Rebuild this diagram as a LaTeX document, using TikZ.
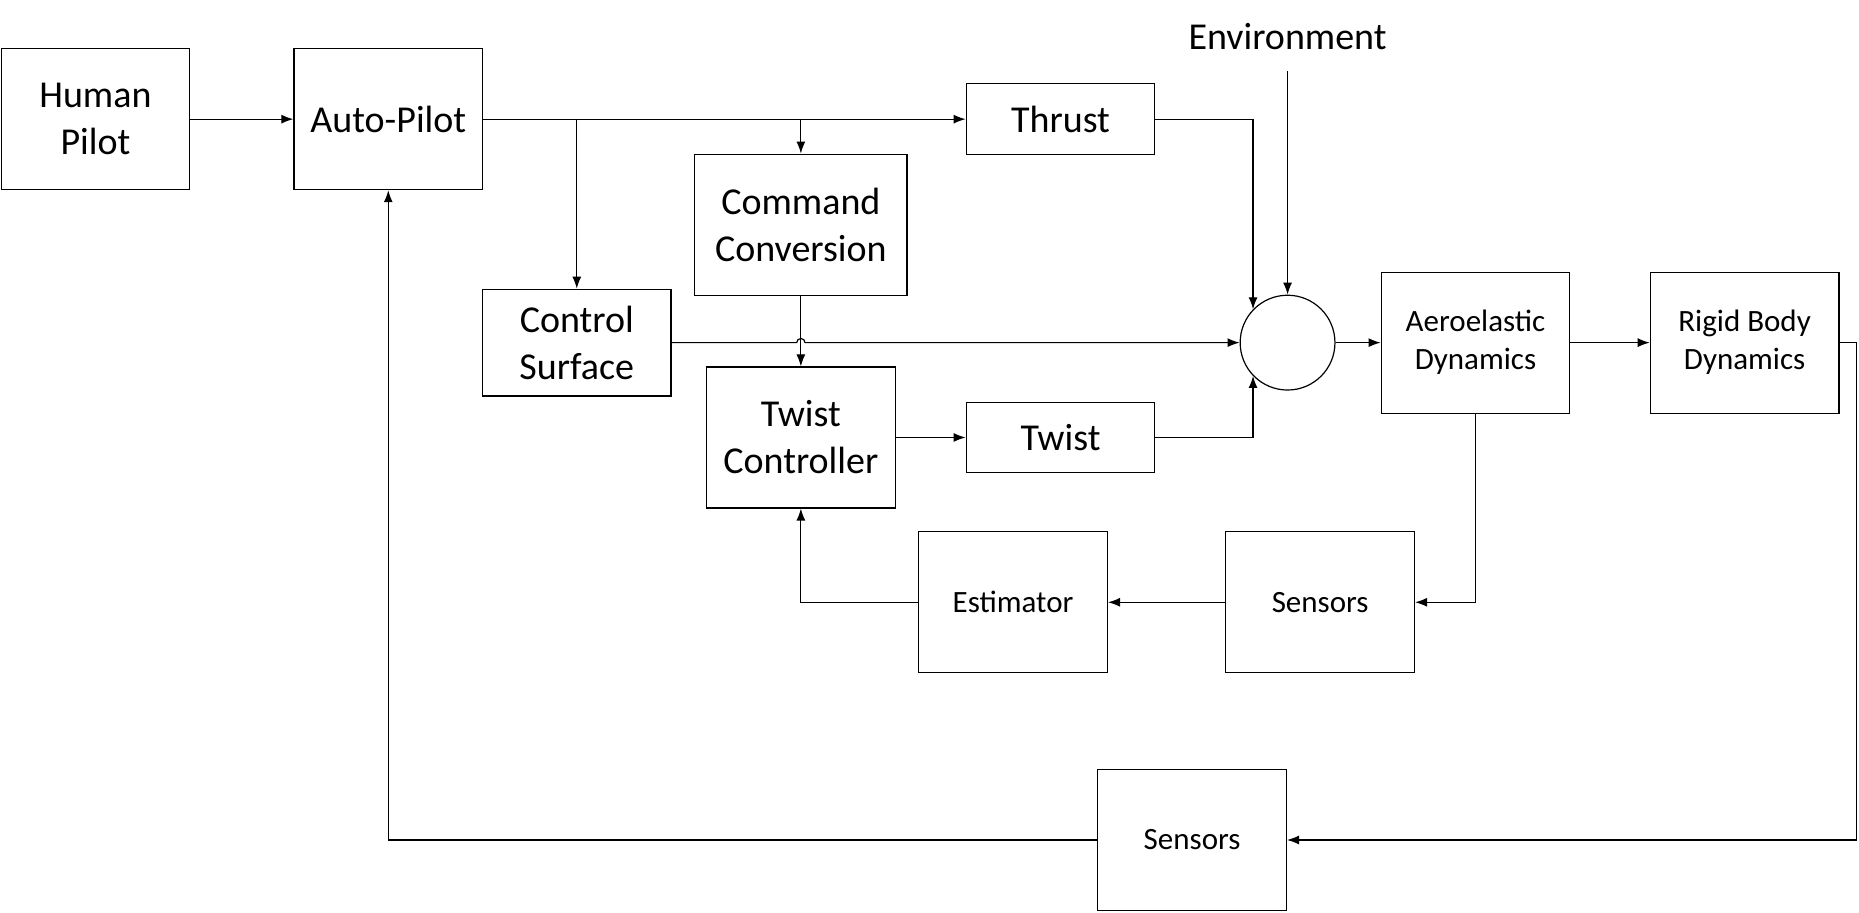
\documentclass[tikz,border=0pt]{standalone}
\usepackage{fontspec}
\setmainfont{Carlito}
\usetikzlibrary{arrows.meta,positioning}

\begin{document}
\begin{tikzpicture}
		[x=0.5928pt,y=-0.5928pt,>={Latex[length=6pt,width=4.5pt]},line width=0.6pt,
		block/.style={draw,align=center,inner sep=0pt,minimum width=94.3pt,minimum height=70.5pt,font=\fontsize{19}{23.5}\selectfont},
		small block/.style={block,font=\fontsize{15.5}{19}\selectfont},
		flat block/.style={block,minimum height=35.3pt}]
		\useasboundingbox (0,0) rectangle (1568,770);
		
		\node[block] (human) at (80.5,100.5) [] {Human\\Pilot};
		\node[block] (auto) at (327.5,100.5) [] {Auto-Pilot};
		\node[flat block] (thrust) at (894.5,100.5) [] {Thrust};
		\node[block,minimum width=106.1pt] (conv) at (675.5,189.5) [] {Command\\Conversion};
		\node[block,minimum height=53.4pt] (surface) at (486.5,289) [] {Control\\Surface};
		\node[block] (tc) at (675.5,369) [] {Twist\\Controller};
		\node[flat block] (twist) at (894.5,369) [] {Twist};
		\node[draw,circle,minimum size=47.4pt,inner sep=0pt] (sum) at (1086,289) [] {};
		\node[font=\fontsize{19}{23.5}\selectfont] (env) at (1086,31) [] {Environment};
		\coordinate (envin) at (1086,60);
		\node[small block] (aero) at (1244.5,289) [] {Aeroelastic\\Dynamics};
		\node[small block] (rigid) at (1471.5,289) [] {Rigid Body\\Dynamics};
		\node[small block] (est) at (854.5,508) [] {Estimator};
		\node[small block] (sens1) at (1113.5,508) [] {Sensors};
		\node[small block] (sens2) at (1005.5,708.5) [] {Sensors};
		
		\draw[->] (human) to (auto);
		\draw[->] (auto) to (thrust);
		\draw[->] (surface.north |- auto.east) to (surface.north);
		\draw[->] (conv.north |- auto.east) to (conv.north);
		\draw[->] (conv) to (tc);
		\draw[->] (surface.east) -- (672,289) arc[start angle=180,end angle=360,radius=3.5] -- (sum.west);
		\draw[->] (thrust.east) -| (sum.136);
		\draw[->] (twist.east) -| (sum.224);
		\draw[->] (envin) to (sum.north);
		\draw[->] (tc) to (twist);
		\draw[->] (sum) to (aero);
		\draw[->] (aero) to (rigid);
		\draw[->] (rigid.east) -- ++(14,0) |- (sens2.east);
		\draw[->] (sens2.west) -| (auto.south);
		\draw[->] (aero.south) |- (sens1.east);
		\draw[->] (sens1) to (est);
		\draw[->] (est.west) -| (tc.south);
\end{tikzpicture}
\end{document}
